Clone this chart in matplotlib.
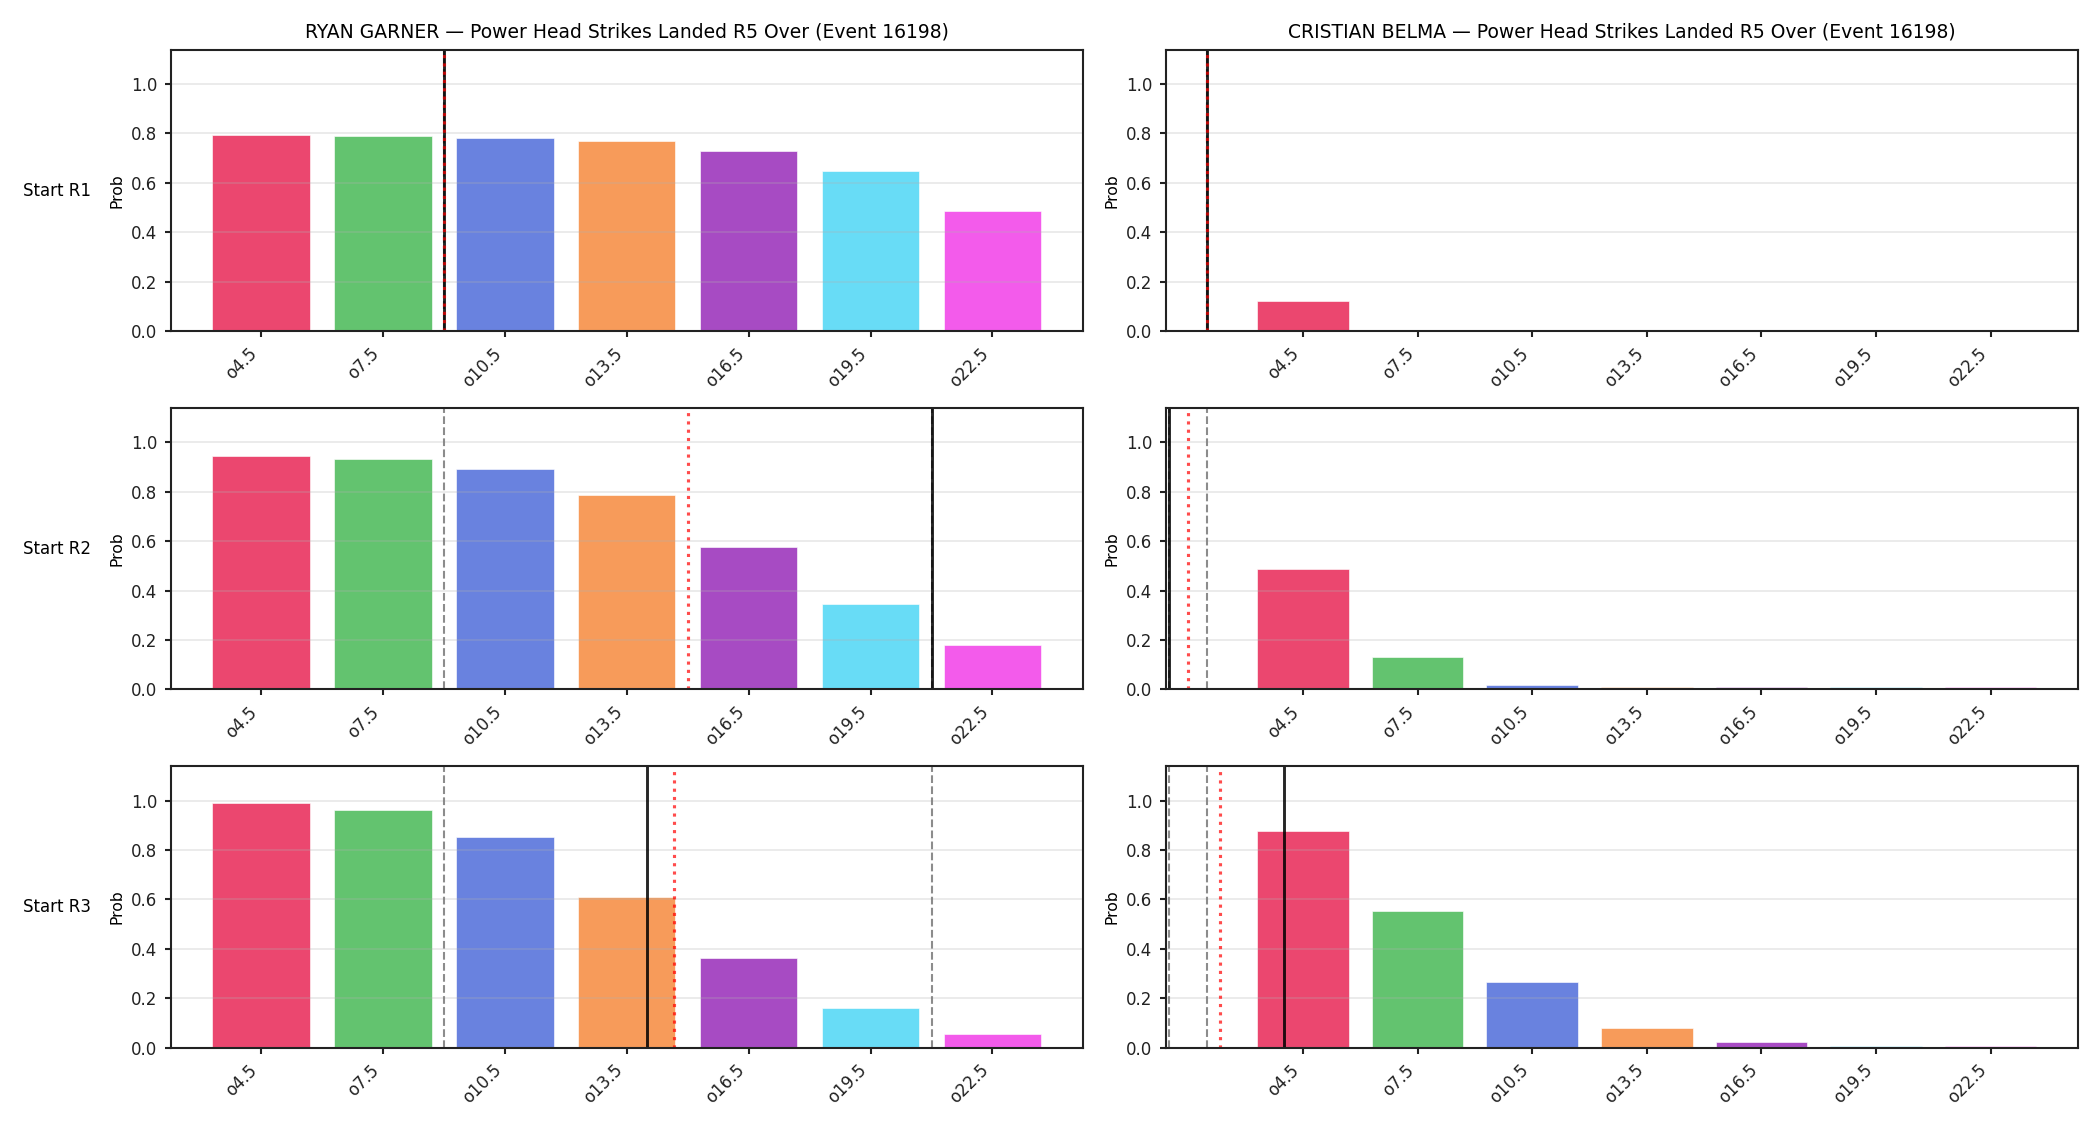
import numpy as np
import matplotlib
matplotlib.use("Agg")
import matplotlib.pyplot as plt

# ---- data ----
fighters = ["RYAN GARNER", "CRISTIAN BELMA"]
title_suffix = "Power Head Strikes Landed R5 Over (Event 16198)"
row_labels = ["Start R1", "Start R2", "Start R3"]
thresholds = [4.5, 7.5, 10.5, 13.5, 16.5, 19.5, 22.5]
tick_labels = ["o4.5", "o7.5", "o10.5", "o13.5", "o16.5", "o19.5", "o22.5"]

garner_r1 = [0.795, 0.788, 0.780, 0.768, 0.731, 0.650, 0.488]
garner_r2 = [0.946, 0.932, 0.891, 0.786, 0.576, 0.345, 0.181]
garner_r3 = [0.991, 0.962, 0.853, 0.609, 0.363, 0.159, 0.057]
belma_r1 = [0.122, 0.004, 0.003, 0.003, 0.003, 0.002, 0.002]
belma_r2 = [0.486, 0.132, 0.018, 0.009, 0.009, 0.008, 0.008]
belma_r3 = [0.878, 0.552, 0.264, 0.079, 0.022, 0.008, 0.008]

# reference lines (values on the strikes scale)
garner_solid = [9.0, 21.0, 14.0]
belma_solid = [2.0, 1.0, 4.0]
garner_dotted = [9.0, 15.0, 14.67]
belma_dotted = [2.0, 1.5, 2.33]
garner_dashed = [[9.0, 9.0], [9.0, 21.0], [9.0, 21.0]]
belma_dashed = [[2.0, 2.0], [1.0, 2.0], [1.0, 2.0]]

bar_colors = ["#e6194B", "#3cb44b", "#4363d8", "#f58231", "#911eb4", "#42d4f4", "#f032e6"]

values = [[garner_r1, belma_r1], [garner_r2, belma_r2], [garner_r3, belma_r3]]
solids = [garner_solid, belma_solid]
dotteds = [garner_dotted, belma_dotted]
dasheds = [garner_dashed, belma_dashed]

plt.rcParams["font.family"] = ["DejaVu Sans"]
fig, axes = plt.subplots(3, 2, figsize=(14, 7.5), dpi=150)
fig.subplots_adjust(left=0.0813, right=0.9895, top=0.9556, bottom=0.0687,
                    wspace=0.0913, hspace=0.274)

step = thresholds[1] - thresholds[0]
spine_col = "#222222"

for c in range(2):
    col_lim = None
    for r in range(3):
        ax = axes[r, c]
        ax.bar(thresholds, values[r][c], width=0.8 * step, color=bar_colors,
               alpha=0.8, edgecolor="white", linewidth=0.35)
        for v in dasheds[c][r]:
            ax.axvline(v, color="gray", linestyle="--", linewidth=1.0, alpha=0.9)
        ax.axvline(solids[c][r], color="black", linestyle="-", linewidth=1.4, alpha=0.85)
        ax.axvline(dotteds[c][r], color="red", linestyle=":", linewidth=1.5, alpha=0.7)
        ax.set_ylim(0, 1.138)
        if col_lim is None:
            col_lim = ax.get_xlim()
        else:
            ax.set_xlim(col_lim)
        ax.set_xticks(thresholds)
        ax.set_xticklabels(tick_labels, rotation=45, ha="right", fontsize=8)
        ax.set_yticks([0.0, 0.2, 0.4, 0.6, 0.8, 1.0])
        ax.tick_params(axis="y", labelsize=8)
        ax.tick_params(length=3, width=1.0, color=spine_col, labelcolor=spine_col)
        ax.set_ylabel("Prob", fontsize=7.5, labelpad=3)
        ax.grid(axis="y", alpha=0.3)
        for s in ax.spines.values():
            s.set_linewidth(1.0)
            s.set_color(spine_col)
        if r == 0:
            ax.set_title(f"{fighters[c]} \u2014 {title_suffix}", fontsize=9)
        if c == 0:
            bb = ax.get_position()
            fig.text(0.0435, (bb.y0 + bb.y1) / 2, row_labels[r], ha="right",
                     va="center", fontsize=8)

fig.savefig("out.png", dpi=150)
